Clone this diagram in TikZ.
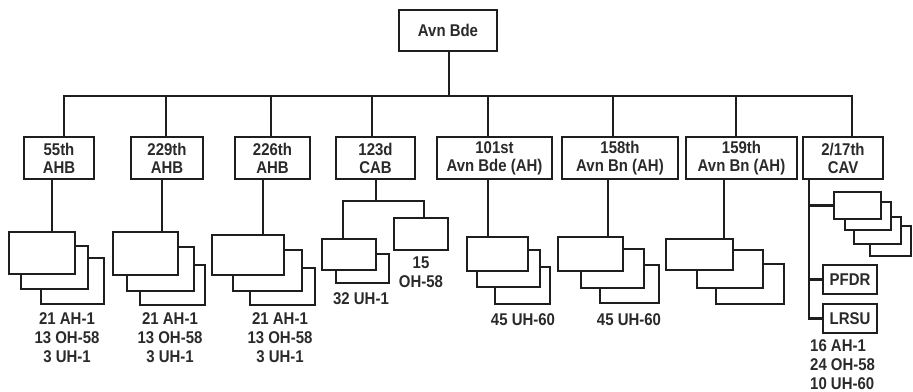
\documentclass[tikz,border=0pt]{standalone}
\usepackage{fontspec}
\setmainfont{Liberation Sans}[FakeStretch=0.88]
\definecolor{ink}{HTML}{1E1E1E}
\definecolor{txt}{HTML}{2A2A2A}
\newcommand\mkbox[6]{\node[#1,minimum width={(#4)-(#2)},minimum height={(#5)-(#3)}] (#6) at ({((#2)+(#4))/2},{((#3)+(#5))/2})}
\begin{document}
\begin{tikzpicture}[x=1pt,y=-1pt,
  ln/.style={draw=ink,line width=2.8pt,line join=miter},
  org/.style={draw=ink,line width=2.8pt,fill=white,inner sep=0pt,align=center,text=txt,
    font=\bfseries\fontsize{17}{18}\selectfont},
  unit/.style={draw=ink,line width=2.8pt,fill=white,inner sep=0pt},
  lbl/.style={inner sep=0pt,text=txt,font=\bfseries\fontsize{17}{19}\selectfont}]
\useasboundingbox (0,0) rectangle (913,391);
% top
\mkbox{org}{399}{10}{497}{51}{avn}{Avn Bde};
% level 2
\mkbox{org}{24}{137}{94}{179}{b55}{55th\\AHB};
\mkbox{org}{131}{137}{203}{179}{b229}{229th\\AHB};
\mkbox{org}{235}{137}{310}{179}{b226}{226th\\AHB};
\mkbox{org}{336}{137}{415}{179}{b123}{123d\\CAB};
\mkbox{org}{437}{137}{552}{179}{b101}{101st\\Avn Bde (AH)};
\mkbox{org}{562}{137}{678}{179}{b158}{158th\\Avn Bn (AH)};
\mkbox{org}{686}{137}{797}{179}{b159}{159th\\Avn Bn (AH)};
\mkbox{org}{803}{137}{883}{179}{b217}{2/17th\\CAV};
% bus
\coordinate (busA) at (449,96);
\coordinate (busL) at (64,96);
\coordinate (busR) at (852,96);
\coordinate (d229) at (166,96);
\coordinate (d226) at (271,96);
\coordinate (d123) at (372,96);
\coordinate (d101) at (488,96);
\coordinate (d158) at (613,96);
\coordinate (d159) at (736,96);
\draw[ln] (avn.south -| busA) -- (busA);
\draw[ln] (b55.north -| busL) -- (busL) -- (busR) -- (b217.north -| busR);
\foreach \n in {229,226,123,101,158,159}{
  \draw[ln] (d\n) -- (b\n.north -| d\n);
}
% 55th stack
\mkbox{unit}{41}{258}{104}{304}{u55c}{};
\mkbox{unit}{21}{246}{88}{289}{u55b}{};
\mkbox{unit}{9}{232}{75}{274}{u55a}{};
\coordinate (k55) at (52,200);
\draw[ln] (b55.south -| k55) -- (u55a.north -| k55);
\node[lbl,align=center,anchor=north] (t55) at (67,312) {21 AH-1\\13 OH-58\\3 UH-1};
% 229th stack
\mkbox{unit}{140}{265}{205}{305}{u229c}{};
\mkbox{unit}{127}{247}{194}{291}{u229b}{};
\mkbox{unit}{113}{232}{178}{275}{u229a}{};
\coordinate (k229) at (162,200);
\draw[ln] (b229.south -| k229) -- (u229a.north -| k229);
\node[lbl,align=center,anchor=north] (t229) at (170,312) {21 AH-1\\13 OH-58\\3 UH-1};
% 226th stack
\mkbox{unit}{250}{268}{315}{305}{u226c}{};
\mkbox{unit}{233}{250}{302}{291}{u226b}{};
\mkbox{unit}{212}{235}{284}{275}{u226a}{};
\coordinate (k226) at (263,200);
\draw[ln] (b226.south -| k226) -- (u226a.north -| k226);
\node[lbl,align=center,anchor=north] (t226) at (280,312) {21 AH-1\\13 OH-58\\3 UH-1};
% 123d
\mkbox{unit}{336}{254}{389}{283}{c123b}{};
\mkbox{unit}{322}{239}{376}{270}{c123a}{};
\mkbox{unit}{394}{218}{448}{250}{r123}{};
\coordinate (k123) at (376,201);
\coordinate (k123L) at (343,201);
\coordinate (k123R) at (424,201);
\draw[ln] (b123.south -| k123) -- (k123);
\draw[ln] (c123a.north -| k123L) -- (k123L) -- (k123R) -- (r123.north -| k123R);
\node[lbl,anchor=north] (t123a) at (361,292) {32 UH-1};
\node[lbl,align=center,anchor=north] (t123b) at (421,257) {15\\OH-58};
% 101st
\mkbox{unit}{495}{267}{550}{304}{u101c}{};
\mkbox{unit}{477}{250}{540}{287}{u101b}{};
\mkbox{unit}{467}{237}{528}{271}{u101a}{};
\coordinate (k101) at (488,200);
\draw[ln] (b101.south -| k101) -- (u101a.north -| k101);
\node[lbl,anchor=north] (t101) at (523,313) {45 UH-60};
% 158th
\mkbox{unit}{600}{265}{659}{303}{u158c}{};
\mkbox{unit}{581}{249}{644}{288}{u158b}{};
\mkbox{unit}{558}{237}{623}{271}{u158a}{};
\coordinate (k158) at (608,200);
\draw[ln] (b158.south -| k158) -- (u158a.north -| k158);
\node[lbl,anchor=north] (t158) at (629,313) {45 UH-60};
% 159th
\mkbox{unit}{716}{264}{784}{304}{u159c}{};
\mkbox{unit}{697}{250}{763}{288}{u159b}{};
\mkbox{unit}{666}{239}{733}{270}{u159a}{};
\coordinate (k159) at (724,200);
\draw[ln] (b159.south -| k159) -- (u159a.north -| k159);
% 2/17th CAV
\mkbox{unit}{870}{226}{911}{256}{s4}{};
\mkbox{unit}{854}{217}{901}{244}{s3}{};
\mkbox{unit}{845}{202}{891}{230}{s2}{};
\mkbox{unit}{834}{192}{881}{219}{s1}{};
\mkbox{org}{823}{265}{877}{294}{pfdr}{PFDR};
\mkbox{org}{823}{304}{877}{333}{lrsu}{LRSU};
\coordinate (k217) at (809,200);
\draw[ln] (b217.south -| k217) -- (lrsu.west -| k217) -- (lrsu.west);
\draw[ln] (s1.west -| k217) -- (s1.west);
\draw[ln] (pfdr.west -| k217) -- (pfdr.west);
\node[lbl,align=left,anchor=north west,font=\bfseries\fontsize{17}{19}\selectfont] (t217) at (810,339) {16 AH-1\\24 OH-58\\10 UH-60};
\end{tikzpicture}
\end{document}
